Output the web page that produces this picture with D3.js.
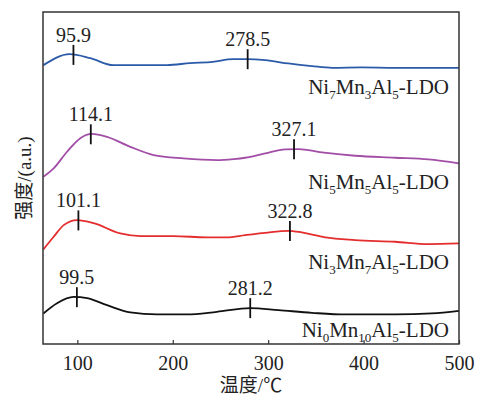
<!DOCTYPE html>
<html lang="zh">
<head>
<meta charset="UTF-8">
<title>TPR curves</title>
<script src="https://cdnjs.cloudflare.com/ajax/libs/d3/7.8.5/d3.min.js"></script>
<style>
  body { margin: 0; background: #fff; }
  svg text { font-family: "Times New Roman", "Liberation Serif", Times, "Noto Sans CJK SC", serif; fill: #222; }
</style>
</head>
<body>
<div id="chart"></div>
<script>
// series names (digits become subscripts)
const seriesNames = ["Ni7Mn3Al5-LDO", "Ni5Mn5Al5-LDO", "Ni3Mn7Al5-LDO", "Ni0Mn10Al5-LDO"];
const seriesColors = ["#2b5ba8", "#a24ea6", "#e42d2d", "#111111"];

// temperature (°C) and intensity (a.u., offset)
const tempNi7 = [64.4, 91.9, 113.6, 137.7, 166, 194, 218, 242, 263, 278, 297, 321, 346, 367, 398, 433, 500];
const intNi7  = [84.0, 87.3, 86.1, 84.0, 84.0, 84.0, 84.6, 85.0, 85.8, 85.8, 85.5, 84.5, 83.7, 83.2, 83.3, 83.2, 83.2];

const tempNi5 = [64.4, 75.2, 89.2, 103.1, 115.4, 131.1, 155.5, 179.9, 211.3, 246.3, 263.7, 275.9, 296.9, 317.8, 331.7, 356.2, 391.1, 433, 467.9, 500];
const intNi5  = [50.4, 52.9, 57.9, 62.0, 63.3, 62.4, 59.4, 56.9, 55.9, 55.4, 55.7, 56.1, 57.4, 58.6, 58.7, 57.7, 56.7, 56.1, 55.6, 54.4];

const tempNi3 = [64.4, 75.2, 85.7, 99.7, 117.1, 145, 166, 200.8, 235.8, 256.8, 275.9, 296.9, 321.3, 335.3, 359.7, 391.1, 433, 467.9, 500];
const intNi3  = [28.5, 32.3, 35.8, 37.3, 36.4, 33.3, 32.5, 32.5, 32.1, 32.1, 32.8, 33.5, 34.1, 33.6, 32.1, 31.3, 30.8, 30.1, 30.3];

const tempNi0 = [64.4, 78.7, 96.1, 110.2, 131.1, 155.5, 183.5, 214.9, 246.3, 281.2, 310.8, 345.8, 380.6, 433, 471.4, 500];
const intNi0  = [9.2, 12.3, 14.2, 13.8, 11.7, 9.5, 8.9, 8.9, 9.7, 10.8, 10.2, 9.4, 8.9, 8.9, 9.2, 10.0];

// marked peak temperatures
const peaksNi7 = [95.9, 278.5];
const peaksNi5 = [114.1, 327.1];
const peaksNi3 = [101.1, 322.8];
const peaksNi0 = [99.5, 281.2];

const xTicks = [100, 200, 300, 400, 500];

const temps = [tempNi7, tempNi5, tempNi3, tempNi0];
const ints = [intNi7, intNi5, intNi3, intNi0];
const peaks = [peaksNi7, peaksNi5, peaksNi3, peaksNi0];

const width = 477, height = 395;
const margin = { top: 12, right: 18, bottom: 51, left: 43 };

const svg = d3.select("#chart").append("svg")
  .attr("width", width)
  .attr("height", height);

const x = d3.scaleLinear().domain([64, 500]).range([margin.left, width - margin.right]);
const y = d3.scaleLinear().domain([0, 100]).range([height - margin.bottom, margin.top]);

// curves
const line = d3.line()
  .x(d => x(d[0]))
  .y(d => y(d[1]))
  .curve(d3.curveMonotoneX);

seriesNames.forEach((name, i) => {
  const pts = d3.zip(temps[i], ints[i]);
  svg.append("path")
    .datum(pts)
    .attr("d", line)
    .attr("fill", "none")
    .attr("stroke", seriesColors[i])
    .attr("stroke-width", 1.8);

  // peak markers and labels
  peaks[i].forEach(p => {
    const yv = d3.scaleLinear().domain(temps[i]).range(ints[i])(p);
    const py = y(yv);
    svg.append("line")
      .attr("x1", x(p)).attr("x2", x(p))
      .attr("y1", py - 10).attr("y2", py + 10)
      .attr("stroke", "#111").attr("stroke-width", 1.8);
    svg.append("text")
      .attr("x", x(p)).attr("y", py - 13)
      .attr("text-anchor", "middle")
      .attr("font-size", 20)
      .text(p.toFixed(1));
  });

  // series label with subscripts, under the right end of the curve
  const baseY = y(ints[i][ints[i].length - 1]) + 26;
  const t = svg.append("text")
    .attr("x", 449).attr("y", baseY)
    .attr("text-anchor", "end")
    .attr("font-size", 21);
  let shifted = false;
  name.split(/(\d+)/).filter(s => s.length).forEach(part => {
    const isNum = /^\d+$/.test(part);
    const ts = t.append("tspan").text(part);
    if (isNum) {
      ts.attr("font-size", 13).attr("dy", shifted ? 0 : 5);
      shifted = true;
    } else {
      if (shifted) ts.attr("dy", -5);
      shifted = false;
    }
  });
});

// frame
svg.append("rect")
  .attr("x", margin.left).attr("y", margin.top)
  .attr("width", width - margin.left - margin.right)
  .attr("height", height - margin.top - margin.bottom)
  .attr("fill", "none")
  .attr("stroke", "#333")
  .attr("stroke-width", 1.5);

// x axis
const xAxis = svg.append("g")
  .attr("transform", `translate(0,${height - margin.bottom})`)
  .call(d3.axisBottom(x).tickValues(xTicks).tickSizeInner(-4).tickSizeOuter(0).tickPadding(12));
xAxis.attr("font-family", null).attr("font-size", null);
xAxis.select(".domain").remove();
xAxis.selectAll("line").attr("stroke", "#333").attr("stroke-width", 1.2);
xAxis.selectAll("text")
  .attr("font-size", 20)
  .attr("fill", "#222");

// axis titles
svg.append("text")
  .attr("x", (margin.left + width - margin.right) / 2)
  .attr("y", 392)
  .attr("text-anchor", "middle")
  .attr("font-size", 19)
  .text("温度/℃");

svg.append("text")
  .attr("transform", `translate(31,${(margin.top + height - margin.bottom) / 2}) rotate(-90)`)
  .attr("text-anchor", "middle")
  .attr("font-size", 19)
  .text("强度/(a.u.)");
</script>
</body>
</html>
